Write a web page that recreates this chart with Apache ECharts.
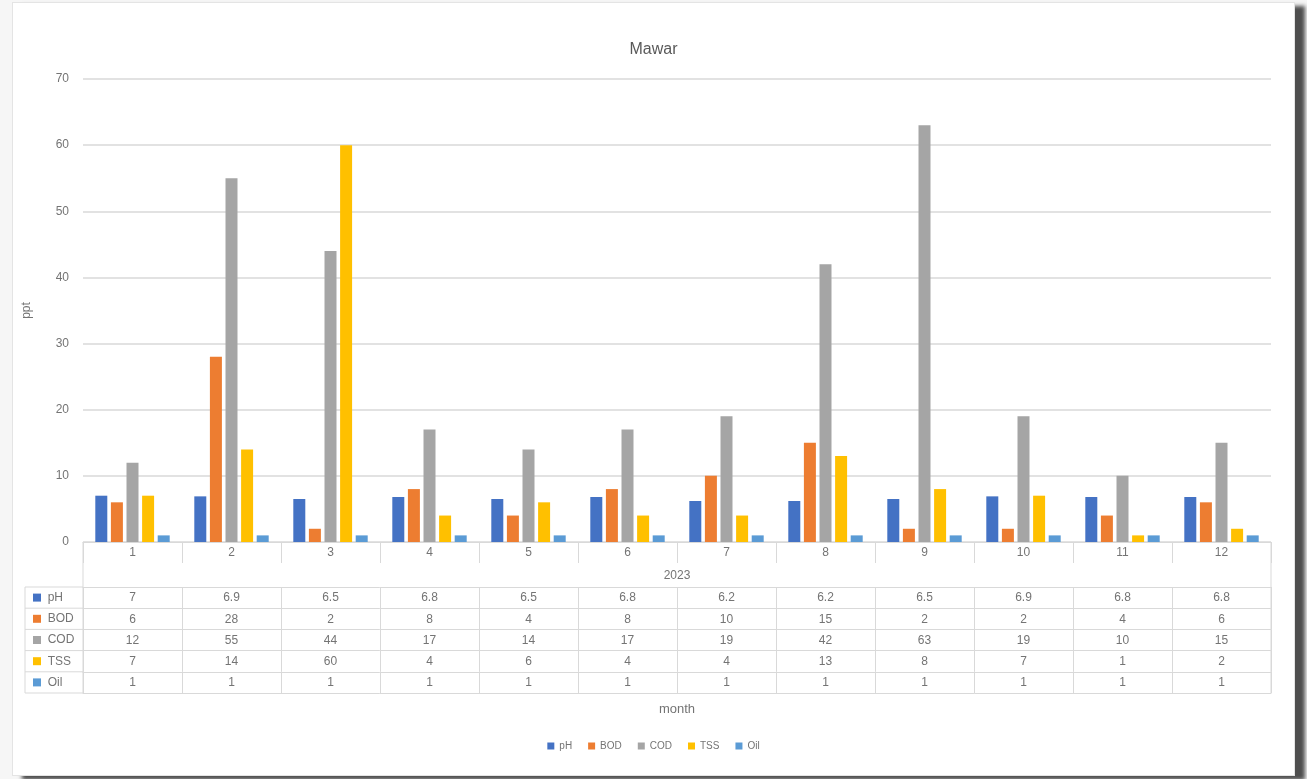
<!DOCTYPE html>
<html>
<head>
<meta charset="utf-8">
<script src="https://cdn.jsdelivr.net/npm/echarts@6/dist/echarts.min.js"></script>
<style>
  html, body { margin: 0; padding: 0; background: #f6f6f6; overflow: hidden; }
  #card { position: absolute; left: 12px; top: 2px; width: 1283px; height: 774px; background: #ffffff;
          border: 1px solid #e4e4e4; box-sizing: border-box; box-shadow: 10px 4px 4px rgba(60,60,60,0.9); }
  #chart { position: absolute; left: 0; top: 0; width: 1307px; height: 779px; }
</style>
</head>
<body>
<div id="card"></div>
<div id="chart"></div>
<script>
// ---- data ----
const months = ['1', '2', '3', '4', '5', '6', '7', '8', '9', '10', '11', '12'];
const yearLabel = ['2023'];
const seriesNames = ['pH', 'BOD', 'COD', 'TSS', 'Oil'];
const pH  = [7, 6.9, 6.5, 6.8, 6.5, 6.8, 6.2, 6.2, 6.5, 6.9, 6.8, 6.8];
const BOD = [6, 28, 2, 8, 4, 8, 10, 15, 2, 2, 4, 6];
const COD = [12, 55, 44, 17, 14, 17, 19, 42, 63, 19, 10, 15];
const TSS = [7, 14, 60, 4, 6, 4, 4, 13, 8, 7, 1, 2];
const Oil = [1, 1, 1, 1, 1, 1, 1, 1, 1, 1, 1, 1];
const yTicks = [0, 10, 20, 30, 40, 50, 60, 70];

// ---- styling ----
const colors = ['#4472C4', '#ED7D31', '#A5A5A5', '#FFC000', '#5B9BD5'];
const values = [pH, BOD, COD, TSS, Oil];
const FONT = 'Liberation Sans, Arial, sans-serif';
const txt = '#747474';
const lineC = '#d9d9d9';

const gridLeft = 83, gridRight = 36, gridTop = 79, gridBottom = 237;
const axisY = 779 - gridBottom;       // 542
const tableTop = 587, rowH = 21.2;

const xAxes = [];
// month labels
xAxes.push({
  type: 'category', data: months, position: 'bottom', offset: 0,
  axisLine: { show: true, lineStyle: { color: lineC, width: 1 } },
  axisTick: { show: true, length: 21, interval: 0, lineStyle: { color: lineC } },
  axisLabel: { color: txt, fontSize: 12, fontFamily: FONT, margin: 5, interval: 0 }
});
// year label
xAxes.push({
  type: 'category', data: yearLabel, position: 'bottom', offset: 0,
  axisLine: { show: false }, axisTick: { show: false },
  axisLabel: { color: txt, fontSize: 12, fontFamily: FONT, margin: 28 }
});
// data table rows
seriesNames.forEach((n, i) => {
  xAxes.push({
    type: 'category', data: values[i].map(v => String(v)), position: 'bottom',
    offset: tableTop - axisY + rowH * i,
    axisLine: { show: true, lineStyle: { color: lineC, width: 1 } },
    axisTick: { show: true, length: rowH, interval: 0, lineStyle: { color: lineC } },
    axisLabel: { color: txt, fontSize: 12, fontFamily: FONT, margin: 5, interval: 0 },
    name: '{sq|}  {t|' + n + '}', nameLocation: 'start', nameGap: 50,
    nameTextStyle: {
      align: 'left', verticalAlign: 'top', lineHeight: rowH,
      rich: {
        sq: { width: 8, height: 8, backgroundColor: colors[i] },
        t: { color: txt, fontSize: 12, fontFamily: FONT, lineHeight: rowH }
      }
    }
  });
});
// bottom border + axis title
xAxes.push({
  type: 'category', data: months, position: 'bottom',
  offset: tableTop - axisY + rowH * 5,
  axisLine: { show: true, lineStyle: { color: lineC, width: 1 } },
  axisTick: { show: false }, axisLabel: { show: false },
  name: 'month', nameLocation: 'middle', nameGap: 10,
  nameTextStyle: { color: txt, fontSize: 13, fontFamily: FONT }
});

// left column table frame
const graphics = [];
const tableBottom = tableTop + rowH * 5;
for (let i = 0; i <= 5; i++) {
  const y = tableTop + rowH * i;
  graphics.push({ type: 'line', silent: true, shape: { x1: 25, y1: y, x2: gridLeft, y2: y }, style: { stroke: lineC, lineWidth: 1 } });
}
graphics.push({ type: 'line', silent: true, shape: { x1: 25, y1: tableTop, x2: 25, y2: tableBottom }, style: { stroke: lineC, lineWidth: 1 } });
graphics.push({ type: 'line', silent: true, shape: { x1: gridLeft, y1: axisY, x2: gridLeft, y2: tableBottom }, style: { stroke: lineC, lineWidth: 1 } });
graphics.push({ type: 'line', silent: true, shape: { x1: 1307 - gridRight, y1: axisY, x2: 1307 - gridRight, y2: tableBottom }, style: { stroke: lineC, lineWidth: 1 } });

const chart = echarts.init(document.getElementById('chart'), null, { renderer: 'canvas' });
chart.setOption({
  animation: false,
  backgroundColor: 'transparent',
  color: colors,
  title: {
    text: 'Mawar', left: 'center', top: 37,
    textStyle: { color: '#595959', fontSize: 16, fontWeight: 'normal', fontFamily: FONT }
  },
  legend: {
    data: seriesNames, bottom: 23, left: 'center',
    itemWidth: 7, itemHeight: 7, itemGap: 16, icon: 'rect',
    textStyle: { color: txt, fontSize: 10, fontFamily: FONT }
  },
  grid: { left: gridLeft, right: gridRight, top: gridTop, bottom: gridBottom, containLabel: false, outerBoundsMode: 'none' },
  xAxis: xAxes,
  yAxis: {
    type: 'value', min: yTicks[0], max: yTicks[yTicks.length - 1], interval: 10,
    name: 'ppt', nameLocation: 'middle', nameGap: 50, nameRotate: 90,
    nameTextStyle: { color: txt, fontSize: 12, fontFamily: FONT },
    axisLine: { show: false }, axisTick: { show: false },
    axisLabel: { color: txt, fontSize: 12, fontFamily: FONT, margin: 14 },
    splitLine: { lineStyle: { color: lineC, width: 1.5 } }
  },
  graphic: graphics,
  series: seriesNames.map((n, i) => ({
    name: n, type: 'bar', xAxisIndex: 0, data: values[i],
    barWidth: 12, barGap: '30%',
    itemStyle: { color: colors[i] }
  }))
});
</script>
</body>
</html>
